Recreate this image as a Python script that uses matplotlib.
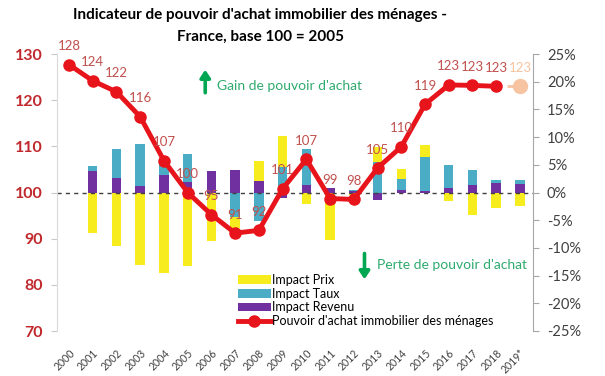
import numpy as np
import matplotlib
matplotlib.use("Agg")
import matplotlib.pyplot as plt

plt.rcParams['font.family'] = ['Lato', 'DejaVu Sans']

years = [str(y) for y in range(2000, 2019)] + ["2019*"]
# indicateur (base 100 = 2005), 2000-2018 observe, 2019 prevision
pouvoir = [127.7, 124.2, 121.8, 116.4, 106.9, 100.0, 95.2, 91.2, 91.8, 100.8,
           107.2, 98.7, 98.5, 105.3, 109.9, 119.1, 123.3, 123.2, 123.0]
pouvoir_prev = 123.0

# contributions en % (2001 a 2019*)
impact_revenu = [3.85, 2.7, 1.2, 3.1, 1.9, 3.85, 4.15, 2.0, -1.0, 1.3,
                 0.9, 0.3, -1.3, 0.4, 0.2, 0.9, 1.3, 1.8, 1.6]
impact_taux = [0.9, 5.1, 7.5, 2.2, 5.1, 0.0, -4.4, -5.1, 4.6, 6.6,
               0.0, 0.2, 5.5, 2.1, 6.2, 4.15, 2.7, 0.5, 0.6]
impact_prix = [-7.4, -9.6, -13.0, -14.6, -13.3, -8.7, -2.0, 3.7, 5.6, -2.0,
               -8.5, -0.5, 2.7, 1.8, 2.1, -1.5, -4.1, -2.8, -2.5]

YELLOW = "#F7EC1E"
CYAN = "#4BACC6"
PURPLE = "#7030A0"
RED = "#E8141B"
LABEL_RED = "#C0504D"
PEACH = "#F6C4A0"
GREEN = "#00A651"

fig = plt.figure(figsize=(6.05, 3.76), dpi=100)
ax = fig.add_axes([57 / 605, 1 - 331 / 376, (533 - 57) / 605, (331 - 54) / 376])
ax2 = ax.twinx()

# barres empilees (positif et negatif separement)
xb = np.arange(1, 20)
pos = np.zeros(len(xb))
neg = np.zeros(len(xb))
bar_handles = {}
for name, vals, col in [("Impact Revenu", impact_revenu, PURPLE),
                        ("Impact Taux", impact_taux, CYAN),
                        ("Impact Prix", impact_prix, YELLOW)]:
    vals = np.array(vals)
    bottom = np.where(vals >= 0, pos, neg)
    b = ax2.bar(xb, vals, 0.4, bottom=bottom, color=col, label=name, zorder=2)
    bar_handles[name] = b
    pos = pos + np.where(vals >= 0, vals, 0)
    neg = neg + np.where(vals < 0, vals, 0)

ax2.axhline(0, color="#404040", lw=1.0, ls=(0, (3, 3)), zorder=3)
ax2.set_ylim(-25, 25)
ax2.set_yticks(range(-25, 30, 5))
ax2.set_yticklabels([f"{v}%" for v in range(-25, 30, 5)], fontsize=10.5, color="#404040")

# courbe
x = np.arange(19)
line, = ax.plot(x, pouvoir, color=RED, lw=3.5, marker="o", ms=8, zorder=5,
                label="Pouvoir d'achat immobilier des ménages")
ax.plot([18, 19], [pouvoir[-1], pouvoir_prev], color=PEACH, lw=2, ls=(0, (2, 2)), zorder=4)
ax.plot([19], [pouvoir_prev], marker="o", ms=10, color=PEACH, zorder=4)
for xi, v in zip(x, pouvoir):
    ax.annotate(f"{v:.0f}", (xi, v), xytext=(0, 9), textcoords="offset points",
                ha="center", va="bottom", fontsize=9.5, color=LABEL_RED, zorder=6)
ax.annotate(f"{pouvoir_prev:.0f}", (19, pouvoir_prev), xytext=(0, 9), textcoords="offset points",
            ha="center", va="bottom", fontsize=9.5, color=PEACH, zorder=6)

ax.set_zorder(ax2.get_zorder() + 1)
ax.patch.set_visible(False)

ax.set_ylim(70, 130)
ax.set_xlim(-0.506, 19.55)
ax.set_yticks(range(70, 140, 10))
ax.tick_params(axis="y", colors="#C9C9C9", labelcolor="#C0282D", labelsize=11.5, length=4, pad=6)
for t in ax.get_yticklabels():
    t.set_fontweight("bold")
ax.set_xticks(x.tolist() + [19])
ax.set_xticklabels(years, rotation=45, ha="right", rotation_mode="anchor",
                   fontsize=7.6, color="#404040")
ax.tick_params(axis="x", length=0, pad=12)
ax2.tick_params(axis="y", colors="#A6A6A6", labelcolor="#404040", length=4, pad=6)

for a in (ax, ax2):
    a.spines["top"].set_visible(False)
    a.spines["bottom"].set_visible(False)
ax.spines["right"].set_visible(False)
ax2.spines["left"].set_visible(False)
ax.spines["left"].set_color("#D9D9D9")
ax2.spines["right"].set_color("#A6A6A6")

# fleches
ax.annotate("", xy=(5.74, 127.2), xytext=(5.74, 121.0),
            arrowprops=dict(arrowstyle="-|>,head_width=0.3,head_length=0.45", color=GREEN, lw=2.6))
ax.text(6.25, 123.0, "Gain de pouvoir d'achat", color="#2EAA6E", fontsize=10, va="center")
ax.annotate("", xy=(12.45, 80.6), xytext=(12.45, 87.4),
            arrowprops=dict(arrowstyle="-|>,head_width=0.3,head_length=0.45", color=GREEN, lw=2.6))
ax.text(12.98, 84.3, "Perte de pouvoir d'achat", color="#2EAA6E", fontsize=10, va="center")

handles = [bar_handles["Impact Prix"], bar_handles["Impact Taux"], bar_handles["Impact Revenu"], line]
labels = ["Impact Prix", "Impact Taux", "Impact Revenu", "Pouvoir d'achat immobilier des ménages"]
ax.legend(handles, labels, loc="upper left", bbox_to_anchor=(0.37, 0.225), frameon=False,
          fontsize=9, handlelength=2.6, handletextpad=0.1, labelspacing=0.15, borderaxespad=0)

fig.suptitle("Indicateur de pouvoir d'achat immobilier des ménages -\nFrance, base 100 = 2005",
             x=0.43, y=0.98, fontsize=11, fontweight="bold", linespacing=1.75)

fig.savefig("out.png", dpi=100)
